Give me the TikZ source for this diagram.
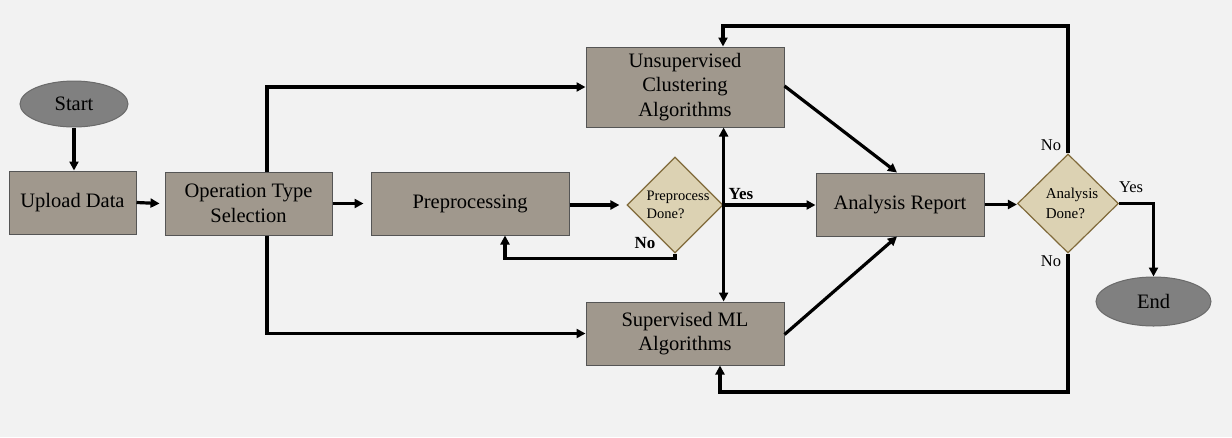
\documentclass[tikz,border=0pt]{standalone}
\usepackage{fontspec}
\setmainfont{Liberation Serif}
\usetikzlibrary{shapes.geometric,arrows.meta,calc}
\definecolor{bg}{HTML}{F2F2F2}
\definecolor{boxfill}{HTML}{A0988D}
\definecolor{boxline}{HTML}{555555}
\definecolor{ovalfill}{HTML}{808080}
\definecolor{ovalline}{HTML}{6A6A6A}
\definecolor{dmdfill}{HTML}{DCD2B3}
\definecolor{dmdline}{HTML}{806A3A}
\tikzset{
  procbox/.style={draw=boxline, line width=1pt, fill=boxfill, rectangle, align=center, inner sep=0pt,
    font=\fontsize{20.5}{24.5}\selectfont},
  oval/.style={draw=ovalline, line width=1pt, fill=ovalfill, ellipse, inner sep=0pt,
    font=\fontsize{20.5}{24.5}\selectfont},
  decision/.style={draw=dmdline, line width=1.2pt, fill=dmdfill, diamond, inner sep=0pt, align=left},
  conn/.style={line width=3.2pt, line join=miter},
  arr/.style={conn, -{Triangle[length=9pt,width=9pt]}},
  lbl/.style={inner sep=0pt, font=\fontsize{16.5}{18}\selectfont},
  blbl/.style={inner sep=0pt, font=\fontsize{17}{18}\selectfont\bfseries}
}
\begin{document}
\begin{tikzpicture}[x=1pt,y=-1pt]
\useasboundingbox[fill=bg] (0,0) rectangle (1232,437);

\node[oval, minimum width=108pt, minimum height=46pt] (start) at (74,104) {Start};
\node[procbox, minimum width=127pt, minimum height=63pt] (upload) at (72.5,202.5) {Upload Data\strut};
\node[procbox, minimum width=167pt, minimum height=63pt] (ots) at (248.5,203.5) {Operation Type\\Selection};
\node[procbox, minimum width=198pt, minimum height=63pt] (pre) at (470,203.5) {Preprocessing\strut};
\node[procbox, minimum width=198pt, minimum height=80pt] (unsup) at (685,87) {Unsupervised\\Clustering\\Algorithms};
\node[procbox, minimum width=198pt, minimum height=63pt] (sup) at (685,333.5) {Supervised ML\\Algorithms};
\node[decision, minimum width=94pt, minimum height=96pt, font=\fontsize{14.5}{17.5}\selectfont] (d1) at (675,205) {\hspace*{6pt}Preprocess\\\hspace*{6pt}Done?};
\node[procbox, minimum width=168pt, minimum height=63pt] (ar) at (900,204.5) {Analysis Report\strut};
\node[decision, minimum width=101pt, minimum height=99pt, font=\fontsize{15}{19.5}\selectfont] (d2) at (1068,203.5) {\hspace*{8pt}Analysis\\\hspace*{8pt}Done?};
\node[oval, minimum width=115pt, minimum height=49pt] (end) at (1153.5,301.5) {End};

\coordinate (topy) at (0,26);
\coordinate (boty) at (0,392);

\draw[arr] (start.south) -- (start.south |- upload.north);
\draw[arr] (upload.east) -- ([xshift=-5pt]ots.west);
\draw[arr] (ots.east) -- ([xshift=-7pt]pre.west);
\draw[arr] ([xshift=18.5pt]ots.north) |- (unsup.west);
\draw[arr] ([xshift=18.5pt]ots.south) |- (sup.west);
\draw[arr] (pre.east |- d1.west) -- ([xshift=-7pt]d1.west);
\draw[arr] (d1.east) -- (d1.east |- unsup.south);
\draw[arr] (d1.east) -- (d1.east |- sup.north);
\draw[arr] (d1.east) -- (d1.east -| ar.west);
\draw[arr] (d1.south) -- ++(0,5) -| ([xshift=35pt]pre.south);
\draw[arr] ([yshift=1pt]unsup.east) -- ([xshift=-3pt]ar.north);
\draw[arr] ([yshift=-1pt]sup.east) -- ([xshift=-3pt]ar.south);
\draw[arr] (ar.east) -- (ar.east -| d2.west);
\draw[arr] (d2.north) -- (d2.north |- topy) -| ([xshift=38pt]unsup.north);
\draw[arr] (d2.south) -- (d2.south |- boty) -| ([xshift=35pt]sup.south);
\draw[arr] (d2.east) -| (end.north);

\node[blbl] (yes1) at (741,194) {Yes};
\node[blbl] (no1) at (645,243) {No};
\node[lbl] (no2) at (1051,145) {No};
\node[lbl] (no3) at (1051,261) {No};
\node[lbl] (yes2) at (1131,187) {Yes};
\end{tikzpicture}
\end{document}
